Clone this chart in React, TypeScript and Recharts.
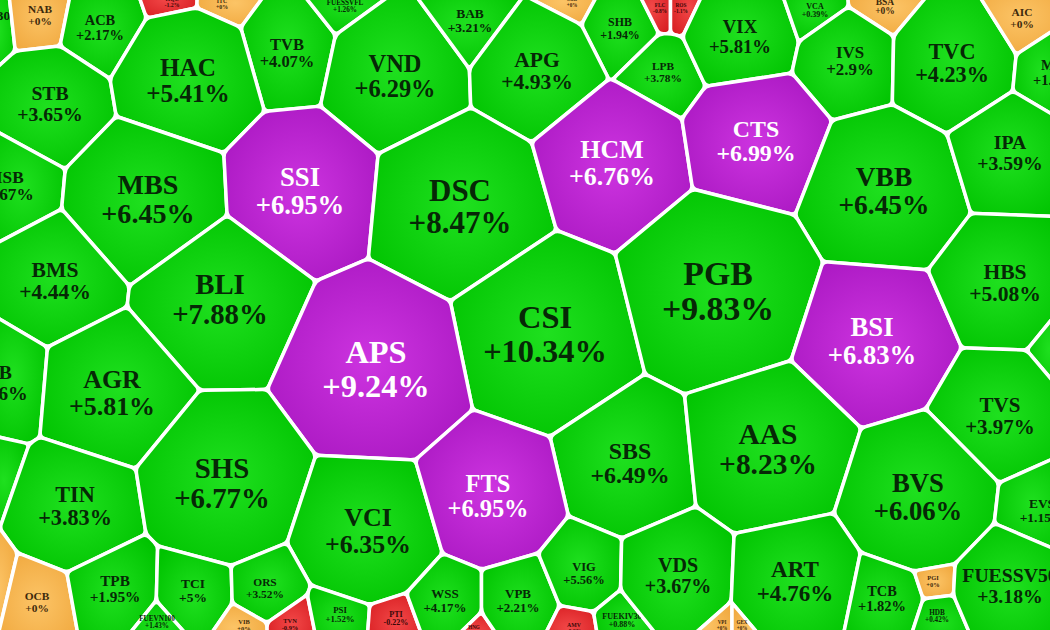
import React from 'react';
import { ScatterChart, Scatter, XAxis, YAxis } from 'recharts';

// ---- data ----
const tickers = [
  'E1VFVN30', 'NAB', 'ACB', 'HQC', 'ITC', 'TVB', 'FUESSVFL', 'VND', 'BAB', 'SGB',
  'SHB', 'FLC', 'ROS', 'LPB', 'APG', 'VIX', 'VCA', 'BSA', 'IVS', 'TVC',
  'AIC', 'MSN', 'STB', 'HAC', 'MSB', 'MBS', 'SSI', 'DSC', 'HCM', 'CTS',
  'VBB', 'IPA', 'BMS', 'BLI', 'CSI', 'PGB', 'BSI', 'HBS', 'DPM', 'EIB',
  'AGR', 'APS', 'SBS', 'AAS', 'TVS', 'HCD', 'TIN', 'SHS', 'VCI', 'FTS',
  'BVS', 'EVS', 'VCB', 'OCB', 'TPB', 'TCI', 'ORS', 'FUEVN100', 'VIB', 'TVN',
  'PSI', 'PTI', 'WSS', 'HNG', 'VPB', 'VIG', 'AMV', 'FUEKIV30', 'VDS', 'ART',
  'VPI', 'GEX', 'TCB', 'PGI', 'HDB', 'FUESSV50',
];
const changes = [
  1.96, 0, 2.17, -1.2, 0, 4.07, 1.26, 6.29, 3.21, 0,
  1.94, -0.8, -1.1, 3.78, 4.93, 5.81, 0.39, 0, 2.9, 4.23,
  0, 1.68, 3.65, 5.41, 2.67, 6.45, 6.95, 8.47, 6.76, 6.99,
  6.45, 3.59, 4.44, 7.88, 10.34, 9.83, 6.83, 5.08, 1.24, 3.06,
  5.81, 9.24, 6.49, 8.23, 3.97, 2.35, 3.83, 6.77, 6.35, 6.95,
  6.06, 1.15, 0, 0, 1.95, 5, 3.52, 1.43, 0, -0.9,
  1.52, -0.22, 4.17, -1.5, 2.21, 5.56, -0.6, 0.88, 3.67, 4.76,
  0, 0, 1.82, 0, 0.42, 3.18,
];
// trading-value weights of each cell
const weights = [
  14, 10, 16, 2.6, 2.6, 21, 4, 46, 14, 2,
  11, 2.2, 2.2, 10, 36, 27, 5, 7, 22, 38,
  10, 16, 30, 49, 23, 61, 55, 74, 52, 44,
  58, 30, 36, 64, 81, 88, 55, 36, 16, 30,
  52, 81, 44, 67, 34, 16, 38, 64, 52, 46,
  55, 14, 20, 10, 18, 14, 10, 4, 3.2, 3.2,
  6, 5, 13, 2, 13, 12, 2.6, 5, 31, 41,
  2, 2, 16, 3.2, 4, 30,
];
// layout seeds of the voronoi treemap
const seedX = [
  -23, 40, 100, 172, 222, 287, 345, 395, 470, 572,
  620, 660, 681, 663, 537, 740, 815, 885, 850, 952,
  1022, 1057, 50, 188, 5, 148, 300, 460, 612, 756,
  884, 1010, 55, 220, 545, 718, 872, 1005, 1082, -5,
  112, 376, 630, 768, 1000, -25, 75, 222, 368, 488,
  918, 1042, -35, 37, 115, 193, 265, 157, 244, 290,
  340, 396, 445, 474, 518, 584, 574, 622, 678, 795,
  722, 742, 882, 933, 937, 1010,
];
const seedY = [
  22, 15, 27, 2, 4, 52, 6, 75, 20, 2,
  28, 8, 8, 72, 70, 36, 10, 6, 60, 62,
  18, 72, 103, 80, 185, 198, 190, 205, 162, 140,
  190, 152, 280, 298, 333, 290, 340, 282, 345, 382,
  392, 368, 462, 448, 415, 470, 505, 482, 530, 495,
  496, 510, 585, 602, 588, 590, 588, 622, 625, 624,
  614, 618, 600, 630, 600, 573, 628, 620, 575, 580,
  625, 625, 598, 581, 616, 585,
];
const ceilingTickers = ['SSI', 'HCM', 'CTS', 'BSI', 'APS', 'FTS'];

// ---- layout ----
const W = 1050;
const H = 630;
const X_DOMAIN: [number, number] = [0, 1050];
const Y_DOMAIN: [number, number] = [0, 630];

type Pt = [number, number];

function clipHalf(poly: Pt[], a: number, b: number, c: number): Pt[] {
  const out: Pt[] = [];
  const n = poly.length;
  for (let i = 0; i < n; i++) {
    const p = poly[i];
    const q = poly[(i + 1) % n];
    const fp = a * p[0] + b * p[1] - c;
    const fq = a * q[0] + b * q[1] - c;
    if (fp <= 0) out.push(p);
    if ((fp < 0 && fq > 0) || (fp > 0 && fq < 0)) {
      const t = fp / (fp - fq);
      out.push([p[0] + t * (q[0] - p[0]), p[1] + t * (q[1] - p[1])]);
    }
  }
  return out;
}

const radii = weights.map((w) => 10 * Math.sqrt(w));

const cells: Pt[][] = tickers.map((_, i) => {
  let poly: Pt[] = [[-20, -20], [1070, -20], [1070, 650], [-20, 650]];
  for (let j = 0; j < tickers.length && poly.length; j++) {
    if (j === i) continue;
    const a = 2 * (seedX[j] - seedX[i]);
    const b = 2 * (seedY[j] - seedY[i]);
    const c =
      seedX[j] * seedX[j] + seedY[j] * seedY[j] -
      seedX[i] * seedX[i] - seedY[i] * seedY[i] -
      radii[j] * radii[j] + radii[i] * radii[i];
    poly = clipHalf(poly, a, b, c);
  }
  return poly;
});

const data = tickers.map((t, i) => ({ idx: i, name: t, x: seedX[i], y: seedY[i], change: changes[i] }));

function roundedPath(pts: Pt[], rad: number): string {
  const n = pts.length;
  if (n < 3) return '';
  let d = '';
  for (let i = 0; i < n; i++) {
    const p = pts[(i - 1 + n) % n];
    const v = pts[i];
    const q = pts[(i + 1) % n];
    const lp = Math.hypot(p[0] - v[0], p[1] - v[1]);
    const lq = Math.hypot(q[0] - v[0], q[1] - v[1]);
    const r1 = Math.min(rad, lp / 2);
    const r2 = Math.min(rad, lq / 2);
    const a: Pt = lp > 0 ? [v[0] + ((p[0] - v[0]) * r1) / lp, v[1] + ((p[1] - v[1]) * r1) / lp] : v;
    const b: Pt = lq > 0 ? [v[0] + ((q[0] - v[0]) * r2) / lq, v[1] + ((q[1] - v[1]) * r2) / lq] : v;
    d += `${i === 0 ? 'M' : 'L'}${a[0].toFixed(2)},${a[1].toFixed(2)} Q${v[0].toFixed(2)},${v[1].toFixed(2)} ${b[0].toFixed(2)},${b[1].toFixed(2)} `;
  }
  return d + 'Z';
}

const PALETTE: Record<string, { c0: string; c1: string; text: string }> = {
  up: { c0: '#1fe01f', c1: '#00c300', text: '#062806' },
  ceil: { c0: '#cd34e0', c1: '#aa18c2', text: '#ffffff' },
  ref: { c0: '#fcc466', c1: '#f0a83e', text: '#3d2a0c' },
  down: { c0: '#f24848', c1: '#d81e22', text: '#3a0808' },
};

function statusOf(i: number): string {
  if (ceilingTickers.includes(tickers[i])) return 'ceil';
  if (changes[i] > 0) return 'up';
  if (changes[i] < 0) return 'down';
  return 'ref';
}

function fmt(v: number): string {
  return (v >= 0 ? '+' : '') + String(v) + '%';
}

const CellShape = (props: any) => {
  const { cx, cy } = props;
  const i: number = props.payload?.idx ?? props.idx;
  if (typeof cx !== 'number' || typeof cy !== 'number' || i == null) return <g />;
  const kx = W / (X_DOMAIN[1] - X_DOMAIN[0]);
  const ky = H / (Y_DOMAIN[1] - Y_DOMAIN[0]);
  const pts: Pt[] = cells[i].map(([x, y]) => [cx + (x - seedX[i]) * kx, cy + (y - seedY[i]) * ky]);
  const st = statusOf(i);
  const pal = PALETTE[st];
  const fs = Math.max(4, radii[i] * 0.36);
  const gid = `cellgrad${i}`;
  return (
    <g>
      <defs>
        <radialGradient id={gid} cx="50%" cy="50%" r="60%">
          <stop offset="0%" stopColor={pal.c0} />
          <stop offset="100%" stopColor={pal.c1} />
        </radialGradient>
      </defs>
      {pts.length >= 3 && (
        <path d={roundedPath(pts, 5)} fill={`url(#${gid})`} stroke="#ffffff" strokeWidth={3.5} strokeLinejoin="round" />
      )}
      <text
        x={cx}
        y={cy - fs * 0.14}
        textAnchor="middle"
        fontFamily="'Liberation Serif', 'Times New Roman', serif"
        fontWeight="bold"
        fontSize={fs}
        fill={pal.text}
      >
        {tickers[i]}
      </text>
      <text
        x={cx}
        y={cy + fs * 0.89}
        textAnchor="middle"
        fontFamily="'Liberation Serif', 'Times New Roman', serif"
        fontWeight="bold"
        fontSize={fs}
        fill={pal.text}
      >
        {fmt(changes[i])}
      </text>
    </g>
  );
};

export default function App() {
  return (
    <div style={{ position: 'absolute', left: 0, top: 0, width: W, height: H, overflow: 'hidden', background: '#ffffff' }}>
      <ScatterChart width={W} height={H} margin={{ top: 0, right: 0, bottom: 0, left: 0 }}>
        <XAxis type="number" dataKey="x" domain={X_DOMAIN} allowDataOverflow hide />
        <YAxis type="number" dataKey="y" domain={Y_DOMAIN} allowDataOverflow reversed hide width={0} />
        <Scatter data={data} isAnimationActive={false} shape={CellShape} />
      </ScatterChart>
    </div>
  );
}
